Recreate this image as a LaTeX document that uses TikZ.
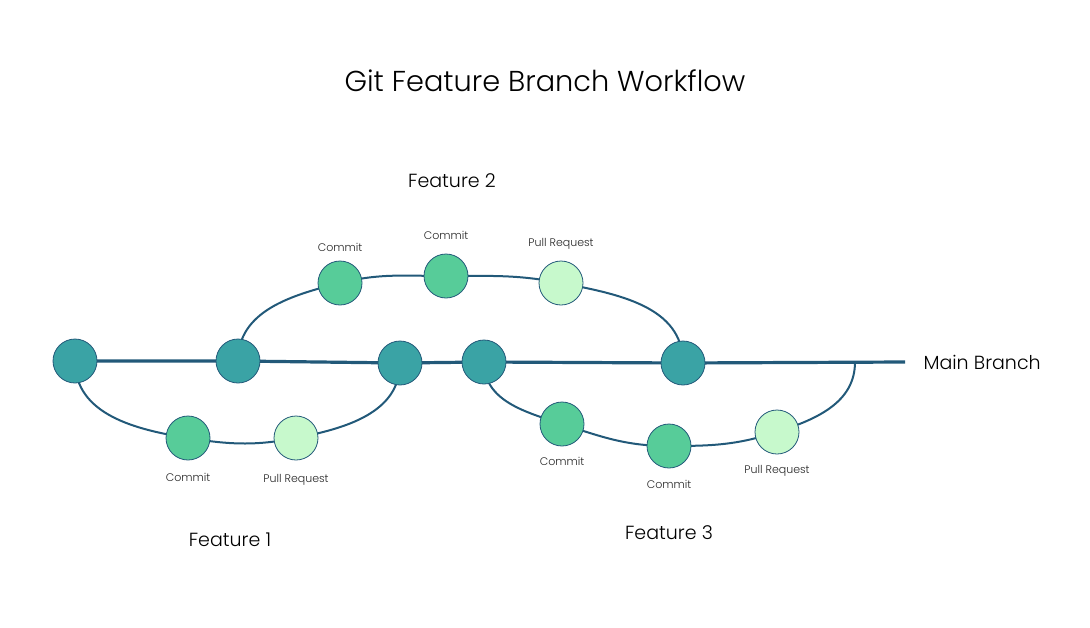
\documentclass[tikz,border=0pt]{standalone}
\usepackage{fontspec}
\setmainfont{Poppins}[UprightFont={* Light}]
\usetikzlibrary{positioning}

\definecolor{teal}{HTML}{3AA3A5}
\definecolor{mint}{HTML}{57CC99}
\definecolor{pale}{HTML}{C7F9CC}
\definecolor{navy}{HTML}{225979}

\pgfdeclarelayer{background}
\pgfsetlayers{background,main}

\begin{document}
\begin{tikzpicture}[
  x=1pt, y=-1pt,
  dot/.style={circle, draw=navy, line width=0.8pt, minimum size=44pt, inner sep=0pt},
  mainnode/.style={dot, fill=teal},
  commit/.style={dot, fill=mint},
  pullreq/.style={dot, fill=pale},
  lbl/.style={font=\fontsize{11}{13}\selectfont, text=black!85},
  title/.style={font=\fontsize{19}{22}\selectfont},
  trunk/.style={draw=navy, line width=3.2pt},
  branch/.style={draw=navy, line width=2pt}
]
\useasboundingbox (0,0) rectangle (1090,627);

\node[font=\fontsize{28.8}{34}\selectfont] (head) at (545,81) {Git Feature Branch Workflow};

% main branch
\node[mainnode] (m1) at (75,361) {};
\node[mainnode] (m2) at (238,361) {};
\node[mainnode] (m3) at (400,363) {};
\node[mainnode] (m4) at (484,362) {};
\node[mainnode] (m5) at (683,363) {};
\coordinate (mend) at (905,362);
\coordinate (f3merge) at (855,362);
\node[title, anchor=west] (mainlbl) at (920,362) {Main Branch};

% feature 1
\node[commit] (f1c) at (188,438) {};
\node[pullreq] (f1pr) at (296,438) {};
\node[lbl, below=9pt of f1c] (f1clbl) {Commit};
\node[lbl, below=10pt of f1pr] (f1prlbl) {Pull Request};
\node[title] (f1lbl) at (230,540) {Feature 1};

% feature 2
\node[commit] (f2c1) at (340,283) {};
\node[commit] (f2c2) at (446,276) {};
\node[pullreq] (f2pr) at (561,283) {};
\node[lbl, above=5pt of f2c1] (f2c1lbl) {Commit};
\node[lbl, above=10pt of f2c2] (f2c2lbl) {Commit};
\node[lbl, above=8pt of f2pr] (f2prlbl) {Pull Request};
\node[title] (f2lbl) at (452,181) {Feature 2};

% feature 3
\node[commit] (f3c1) at (562,424) {};
\node[commit] (f3c2) at (669,446) {};
\node[pullreq] (f3pr) at (777,432) {};
\node[lbl, below=7pt of f3c1] (f3c1lbl) {Commit};
\node[lbl, below=8pt of f3c2] (f3c2lbl) {Commit};
\node[lbl, below=7pt of f3pr] (f3prlbl) {Pull Request};
\node[title] (f3lbl) at (669,533) {Feature 3};

% connectors, behind the commits
\begin{pgfonlayer}{background}
\draw[trunk] (m1.center) -- (m2.center) -- (m3.center) -- (m4.center) -- (m5.center) -- (mend);

\draw[branch] (m1.center) to[out=-90, in=171] (f1c.center)
  to[out=-9, in=191] (f1pr.center) to[out=11, in=-90] (m3.center);

\draw[branch] (m2.center) to[out=90, in=194] (f2c1.center)
  to[out=14, in=180] (f2c2.center) to[out=0, in=169] (f2pr.center)
  to[out=-11, in=90] (m5.center);

\draw[branch] (m4.center) to[out=-90, in=162] (f3c1.center)
  to[out=-18, in=180] (f3c2.center) to[out=0, in=198] (f3pr.center)
  to[out=18, in=-90] (f3merge);
\end{pgfonlayer}
\end{tikzpicture}
\end{document}
